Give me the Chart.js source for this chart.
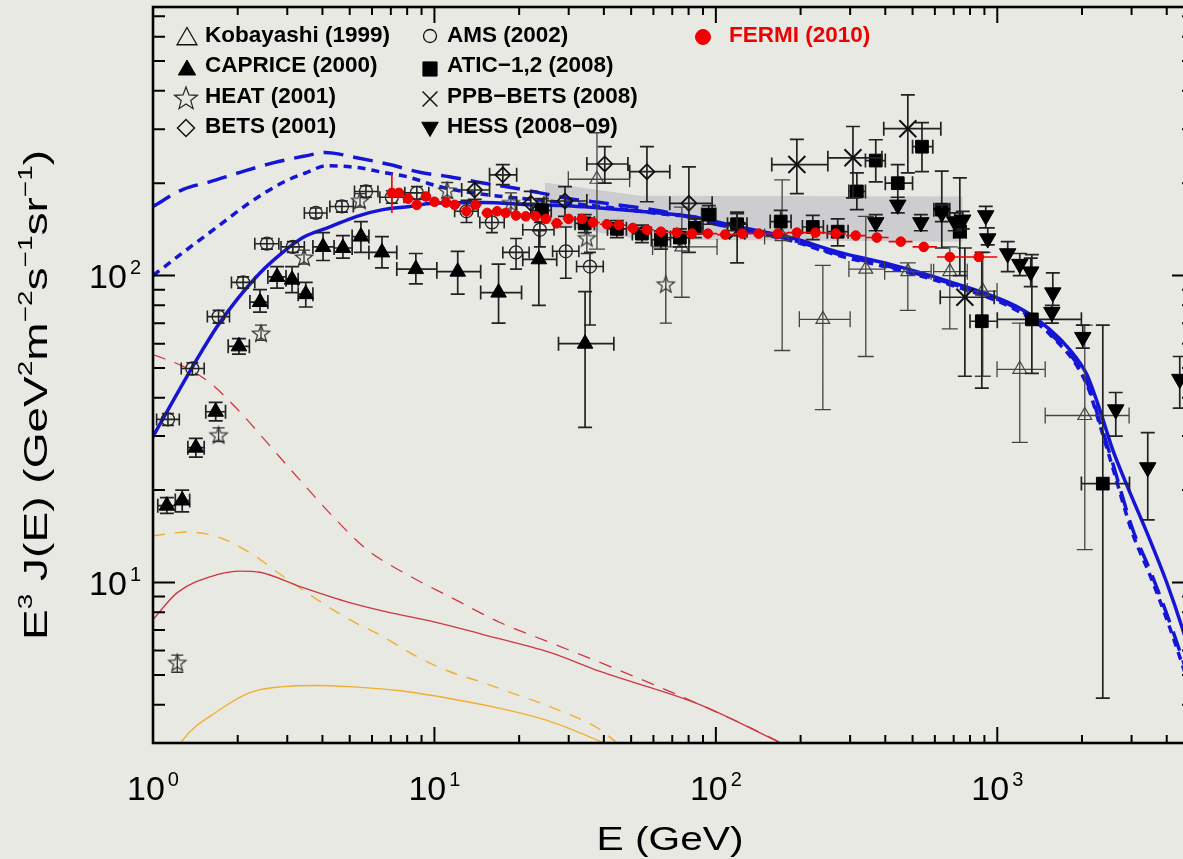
<!DOCTYPE html>
<html>
<head>
<meta charset="utf-8">
<script src="https://cdn.jsdelivr.net/npm/chart.js@4.4.1/dist/chart.umd.min.js"></script>
<style>
html, body { margin: 0; padding: 0; background: #e9e9e4; overflow: hidden; }
canvas { display: block; }
</style>
</head>
<body>
<canvas id="grafico" width="1198" height="859"></canvas>
<script>
// ---------------- DADOS ----------------
// cada linha: [E, E^3 J(E), E baixo, E alto, fluxo baixo, fluxo alto]  (null = sem barra)
const kobayashi = [
    [37.8, 206, 29.9, 49.4, 122, 292],
    [75.7, 124, 59.6, 101, 85, 167],
    [172, 134, 149, 198, 57, 205],
    [240, 72, 198, 300, 36.6, 108],
    [341, 105, 297, 398, 54.5, 156],
    [481, 103, 398, 582, 77, 110],
    [678, 103, 594, 782, 67, 124],
    [888, 89, 782, 998, 47, 119],
    [1202, 49.5, 998, 1480, 28.6, 70],
    [2046, 35, 1480, 2940, 12.8, 69]
];
const caprice = [
    [1.12, 17.8, 1.04, 1.20, 16.8, 18.9],
    [1.27, 18.5, 1.20, 1.35, 17.0, 20.0],
    [1.42, 27.5, 1.33, 1.52, 25.6, 29.5],
    [1.67, 36, 1.54, 1.81, 33.6, 38.6],
    [2.02, 58.8, 1.85, 2.20, 55.5, 62.3],
    [2.40, 82, 2.21, 2.56, 76, 90],
    [2.76, 99, 2.56, 2.97, 91, 107],
    [3.12, 97, 2.97, 3.28, 88, 107],
    [3.49, 87, 3.28, 3.70, 79, 95],
    [4.02, 124, 3.70, 4.40, 112, 138],
    [4.73, 123, 4.40, 5.10, 114, 135],
    [5.48, 134, 5.10, 5.85, 119, 150],
    [6.51, 119, 5.85, 7.35, 106, 134],
    [8.59, 105, 7.35, 10.2, 94, 118],
    [12.1, 103, 10.2, 14.6, 87, 120],
    [16.9, 88, 14.6, 20.4, 70, 109],
    [23.5, 113, 20.6, 27.2, 80, 140],
    [34.3, 60, 27.6, 43.4, 32, 88.7]
];
const heat = [
    [1.22, 5.5, null, null, 5.1, 5.8],
    [1.71, 30.3, null, null, 28.8, 31.9],
    [2.42, 65, null, null, 61.5, 69],
    [3.44, 115, null, null, 109, 121],
    [5.44, 176, null, null, 167, 185],
    [11.1, 190, null, null, 179, 201],
    [18.7, 173, null, null, 160, 186],
    [34.8, 133, null, null, 118, 150],
    [66.4, 94, null, null, 70, 133]
];
const bets = [
    [13.9, 190, 12.5, 15.7, 177, 202],
    [17.5, 213, 15.7, 19.6, 198, 230],
    [22.0, 172, 19.6, 24.5, 156, 188],
    [29.1, 175, 25.0, 34.8, 156, 195],
    [40.3, 231, 34.8, 48.7, 200, 263],
    [56.9, 218, 49.4, 68.6, 174, 263],
    [80.2, 172, 68.6, 97, 119, 226]
];
const ams = [
    [1.13, 34, 1.03, 1.24, 32.5, 35.5],
    [1.38, 49.8, 1.26, 1.52, 47.5, 52],
    [1.71, 73.5, 1.56, 1.87, 70, 77],
    [2.09, 95, 1.90, 2.30, 91, 99],
    [2.54, 127, 2.30, 2.80, 122, 132],
    [3.14, 124, 2.85, 3.45, 119, 129],
    [3.79, 160, 3.45, 4.15, 154, 166],
    [4.69, 168, 4.25, 5.15, 161, 175],
    [5.71, 188, 5.2, 6.3, 180, 196],
    [7.06, 180, 6.4, 7.8, 172, 189],
    [8.66, 186, 7.85, 9.55, 177, 195],
    [13.0, 162, 11.8, 14.3, 149, 176],
    [16.0, 149, 14.5, 17.7, 138, 162],
    [19.5, 119, 17.5, 21.7, 105, 132],
    [23.7, 141, 20.6, 26.6, 124, 149],
    [29.3, 120, 26.3, 32.6, 98, 144],
    [35.7, 107, 32.0, 39.8, 69, 119]
];
const atic = [
    [24.1, 163, 22.3, 26.0, 150, 178],
    [34.2, 148, 31.6, 37.0, 138, 158],
    [44.5, 142, 41.2, 48.1, 133, 151],
    [54.6, 137, 50.5, 59.0, 128, 146],
    [63.8, 131, 59.0, 69.0, 122, 140],
    [74.5, 133, 69.0, 80.5, 124, 142],
    [84.2, 143, 80.5, 90.0, 133, 153],
    [94.4, 158, 89.0, 100, 147, 169],
    [119, 147, 110, 129, 135, 159],
    [170, 150, 156, 185, 137, 163],
    [221, 144, 203, 241, 131, 157],
    [271, 139, 249, 295, 125, 153],
    [317, 188, 297, 340, 164, 216],
    [370, 237, 340, 400, 202, 277],
    [443, 200, 400, 500, 174, 230],
    [540, 263, 500, 590, 218, 315],
    [635, 164, 595, 678, 123, 219],
    [736, 139, 700, 775, 100, 208],
    [881, 71, 800, 1000, 43, 119],
    [1327, 72, 1000, 1990, 48, 117],
    [2371, 21, 1990, 2950, 4.2, 69]
];
const ppbBets = [
    [119, 140, 110, 129, 110, 161],
    [194, 230, 158, 250, 185, 278],
    [307, 242, 250, 389, 179, 306],
    [481, 301, 395, 630, 216, 388],
    [767, 85, 627, 975, 47, 123]
];
const hess = [
    [370, 149, null, null, 140, 158],
    [443, 170, null, null, 160, 180],
    [535, 149, null, null, 140, 158],
    [635, 160, null, null, 150, 170],
    [706, 150, null, null, 140, 160],
    [754, 152, null, null, 142, 162],
    [910, 157, null, null, 143, 168],
    [925, 132, null, null, 126, 143],
    [1089, 118, null, null, 103, 129],
    [1202, 109, null, null, 100, 118],
    [1315, 103, null, null, 92, 114],
    [1575, 88, null, null, 80, 102],
    [1563, 76, null, null, 70, 80],
    [2013, 63, null, null, 58, 69],
    [2636, 36.6, null, null, 30, 41.6],
    [3425, 23.7, null, null, 16, 30.8],
    [4450, 46, null, null, 37, 54.5]
];
const fermi = [
    [7.06, 186, 6.9, 7.27, 160, 216],
    [7.48, 186, 7.27, 7.76, null, null],
    [8.05, 178, 7.76, 8.35, null, null],
    [8.66, 170, 8.35, 9.0, null, null],
    [9.33, 181, 9.0, 9.66, null, null],
    [10.0, 174, 9.66, 10.5, null, null],
    [11.0, 173, 10.5, 11.4, null, null],
    [11.8, 170, 11.4, 12.4, null, null],
    [13.0, 162, 12.4, 13.5, null, null],
    [14.0, 170, 13.5, 14.7, null, null],
    [15.4, 160, 14.7, 16.0, null, null],
    [16.7, 162, 16.0, 17.3, null, null],
    [17.9, 160, 17.3, 18.7, null, null],
    [19.5, 157, 18.7, 20.3, null, null],
    [21.1, 156, 20.3, 22.0, null, null],
    [22.9, 156, 22.0, 23.9, null, null],
    [24.9, 153, 23.9, 26.0, null, null],
    [27.2, 148, 26.0, 28.6, null, null],
    [30.0, 153, 28.6, 31.6, null, null],
    [33.4, 153, 31.6, 35.0, null, null],
    [36.6, 149, 35.0, 38.7, null, null],
    [41.0, 147, 38.7, 43.0, null, null],
    [45.2, 146, 43.0, 47.9, null, null],
    [50.7, 143, 47.9, 53.7, null, null],
    [56.9, 141, 53.7, 60.2, null, null],
    [63.8, 139, 60.2, 68.0, null, null],
    [72.6, 138, 68.0, 77.2, null, null],
    [82.2, 137, 77.2, 87.8, null, null],
    [93.7, 137, 87.8, 101, null, null],
    [108, 136, 101, 116, null, null],
    [124, 137, 116, 133, null, null],
    [142, 137, 133, 154, null, null],
    [166, 137, 154, 179, null, null],
    [194, 138, 179, 209, null, null],
    [226, 138, 209, 246, null, null],
    [267, 137, 246, 290, null, null],
    [314, 135, 290, 342, null, null],
    [373, 133, 342, 411, null, null],
    [454, 129, 411, 500, null, null],
    [548, 124, 500, 610, null, null],
    [678, 115, 610, 780, null, null],
    [859, 115, 780, 1000, null, null]
];

// faixa cinza (sistematica)
const bandaE = [24.7, 53.7, 754];
const bandaAlta = [201, 182, 181];
const bandaBaixa = [148, 131, 129];

// curvas de modelo
const azulCheiaE = [1.0, 1.43, 1.69, 1.99, 2.40, 2.89, 3.41, 4.25, 5.3, 6.56, 8.17, 9.87, 14.9, 22.4, 29.6, 38.8, 53.6, 80.8, 121, 184, 275, 414, 676, 1174, 1538, 1809, 2080, 2312, 2570, 2884, 3483, 4000, 4560, 5000];
const azulCheiaF = [29.9, 53.2, 68.2, 83.6, 102, 119, 133, 144, 156, 164, 168, 172, 173, 170, 169, 166, 162, 156, 144, 133, 119, 109, 95.6, 79.2, 66.7, 57.4, 47.6, 36.6, 27.1, 20.8, 13.8, 10.0, 7.03, 5.3];
const azulPontoE = [1.0, 1.28, 1.69, 2.21, 2.89, 3.53, 4.15, 5.3, 6.56, 7.98, 10.4, 14.9, 22.4, 38.8, 63.2, 87.7, 121, 184, 275, 414, 676, 1174, 1538, 2080, 2312, 2570, 3020, 3483, 4000, 4560, 5000];
const azulPontoF = [100, 119, 144, 173, 201, 217, 228, 225, 217, 210, 195, 184, 177, 168, 159, 154, 142, 130, 116, 106, 93.5, 77, 64.3, 44.2, 32.7, 23.7, 14.5, 10.6, 7.6, 5.35, 4.1];
const azulTracoE = [1.0, 1.28, 1.59, 2.04, 2.67, 3.53, 4.08, 5.3, 6.93, 8.87, 11.3, 14.5, 18.5, 23.7, 30.3, 38.8, 49.5, 59.7, 76.2, 100, 132, 184, 275, 414, 676, 1174, 1538, 2080, 2312, 2570, 3020, 3483, 4000, 4560, 5000];
const azulTracoF = [168, 191, 202, 217, 233, 246, 252, 242, 230, 217, 210, 201, 194, 186, 178, 173, 168, 164, 157, 147, 140, 131, 117, 107, 94.5, 78, 65, 45, 33.5, 24.5, 15, 11, 7.9, 5.6, 4.3];
const vermTracoE = [1.0, 1.28, 1.59, 2.0, 2.54, 3.25, 4.36, 5.76, 8.17, 11.3, 17.1, 25.7, 38.8, 87.7, 169, 200];
const vermTracoF = [55.3, 50.6, 44.8, 36.6, 28.6, 22.1, 16.4, 12.8, 10.5, 9.0, 7.41, 6.38, 5.49, 4.0, 3.01, 2.75];
const vermCheiaE = [1.0, 1.22, 1.69, 2.04, 2.40, 3.33, 5.0, 6.95, 9.89, 14.9, 25.7, 38.8, 87.7, 169, 200];
const vermCheiaF = [7.57, 9.27, 10.6, 10.9, 10.8, 9.7, 8.6, 7.98, 7.46, 6.77, 5.92, 5.13, 4.0, 3.01, 2.8];
const laranjaTracoE = [1.0, 1.32, 1.69, 2.21, 2.89, 3.82, 5.0, 6.56, 8.65, 11.3, 14.9, 19.6, 25.7, 38.8, 44.4, 50];
const laranjaTracoF = [14.2, 14.6, 14.1, 12.5, 10.5, 8.81, 7.57, 6.67, 5.74, 5.13, 4.72, 4.31, 3.94, 3.32, 3.01, 2.8];
const laranjaCheiaE = [1.22, 1.28, 1.69, 2.21, 2.89, 3.82, 5.0, 7.55, 11.3, 17.1, 25.7, 39.7, 45];
const laranjaCheiaF = [2.85, 3.08, 3.80, 4.38, 4.58, 4.62, 4.58, 4.44, 4.19, 3.89, 3.53, 3.01, 2.85];

// eixos
const xMajor = [1, 10, 100, 1000];
const xExpoentes = ["0", "1", "2", "3"];
const yMajor = [10, 100];
const yExpoentes = ["1", "2"];
const yMinor = [3, 4, 5, 6, 7, 8, 9, 20, 30, 40, 50, 60, 70, 80, 90, 200, 300, 400, 500, 600, 700];

const legendaCol1 = ["Kobayashi (1999)", "CAPRICE (2000)", "HEAT (2001)", "BETS (2001)"];
const legendaCol2 = ["AMS (2002)", "ATIC\u22121,2 (2008)", "PPB\u2212BETS (2008)", "HESS (2008\u221209)"];
const legendaFermi = "FERMI (2010)";

// ---------------- ESTILO ----------------
const FUNDO = "#e9e9e4";
const AZUL = "#1515d6";
const VERMELHO = "rgb(205,55,65)";
const LARANJA = "rgb(240,175,50)";
const FONTE = "'Liberation Sans', Arial, sans-serif";

function caminhoEstrela(g, x, y, R) {
    g.beginPath();
    for (let i = 0; i < 10; i++) {
        const a = -Math.PI / 2 + i * Math.PI / 5;
        const r = i % 2 ? R * 0.42 : R;
        const px = x + Math.cos(a) * r, py = y + Math.sin(a) * r;
        if (i === 0) g.moveTo(px, py); else g.lineTo(px, py);
    }
    g.closePath();
}

function estrelaCanvas(R) {
    const c = document.createElement("canvas");
    const s = Math.ceil(2 * R + 4);
    c.width = s; c.height = s;
    const g = c.getContext("2d");
    caminhoEstrela(g, s / 2, s / 2 + 1, R);
    g.strokeStyle = "#333";
    g.lineWidth = 1.2;
    g.stroke();
    return c;
}
const estrela = estrelaCanvas(9);

function pontos(rows) {
    return rows.map(r => ({ x: r[0], y: r[1] }));
}

function curva(es, fs, cor, largura, traco, ordem) {
    return {
        data: es.map((e, i) => ({ x: e, y: fs[i] })),
        showLine: true,
        borderColor: cor,
        borderWidth: largura,
        borderDash: traco,
        pointRadius: 0,
        cubicInterpolationMode: "monotone",
        fill: false,
        order: ordem
    };
}

function serie(rows, estilo, barra, ordem) {
    return Object.assign({ data: pontos(rows), bars: rows, barStyle: barra, order: ordem }, estilo);
}

// ---------------- PLUGINS ----------------
const fundo = {
    id: "fundo",
    beforeDraw(chart) {
        const c = chart.ctx;
        c.save();
        c.fillStyle = FUNDO;
        c.fillRect(0, 0, chart.width, chart.height);
        c.restore();
    }
};

const barrasErro = {
    id: "barrasErro",
    beforeDatasetDraw(chart, args) {
        const ds = chart.data.datasets[args.index];
        if (!ds.bars) return;
        const { ctx, chartArea: a } = chart;
        const xs = chart.scales.x, ys = chart.scales.y;
        const st = ds.barStyle;
        ctx.save();
        ctx.beginPath();
        ctx.rect(a.left, a.top, a.right - a.left, a.bottom - a.top);
        ctx.clip();
        ctx.strokeStyle = st.color;
        ctx.lineWidth = st.width;
        ctx.beginPath();
        ds.bars.forEach(r => {
            const px = xs.getPixelForValue(r[0]);
            const py = ys.getPixelForValue(r[1]);
            if (r[2] != null) {
                const x1 = xs.getPixelForValue(r[2]), x2 = xs.getPixelForValue(r[3]);
                ctx.moveTo(x1, py); ctx.lineTo(x2, py);
                if (st.cap) {
                    ctx.moveTo(x1, py - st.cap); ctx.lineTo(x1, py + st.cap);
                    ctx.moveTo(x2, py - st.cap); ctx.lineTo(x2, py + st.cap);
                }
            }
            if (r[4] != null) {
                const y1 = ys.getPixelForValue(r[4]), y2 = ys.getPixelForValue(r[5]);
                ctx.moveTo(px, y1); ctx.lineTo(px, y2);
                if (st.cap) {
                    ctx.moveTo(px - st.cap, y1); ctx.lineTo(px + st.cap, y1);
                    ctx.moveTo(px - st.cap, y2); ctx.lineTo(px + st.cap, y2);
                }
            }
        });
        ctx.stroke();
        ctx.restore();
    }
};

function marcador(ctx, tipo, x, y, r, cor, cheio, lw) {
    ctx.save();
    ctx.strokeStyle = cor;
    ctx.fillStyle = cor;
    ctx.lineWidth = lw || 1.5;
    ctx.beginPath();
    if (tipo === "tri" || tipo === "triDown") {
        const s = tipo === "tri" ? 1 : -1;
        for (let k = 0; k < 3; k++) {
            const ang = k * 2 * Math.PI / 3;
            const px = x + Math.sin(ang) * r, py = y - s * Math.cos(ang) * r;
            if (k === 0) ctx.moveTo(px, py); else ctx.lineTo(px, py);
        }
        ctx.closePath();
    } else if (tipo === "square") {
        const h = r * Math.SQRT1_2;
        ctx.rect(x - h, y - h, 2 * h, 2 * h);
    } else if (tipo === "diamond") {
        ctx.moveTo(x - r, y); ctx.lineTo(x, y - r); ctx.lineTo(x + r, y); ctx.lineTo(x, y + r);
        ctx.closePath();
    } else if (tipo === "circle") {
        ctx.arc(x, y, r, 0, Math.PI * 2);
    } else if (tipo === "cross") {
        const h = r * Math.SQRT1_2;
        ctx.moveTo(x - h, y - h); ctx.lineTo(x + h, y + h);
        ctx.moveTo(x + h, y - h); ctx.lineTo(x - h, y + h);
    } else if (tipo === "star") {
        caminhoEstrela(ctx, x, y, r);
    }
    if (cheio) ctx.fill();
    ctx.stroke();
    ctx.restore();
}

function potencia(ctx, base, expo, x, baseline, alinhar) {
    ctx.font = "34px " + FONTE;
    const wb = ctx.measureText(base).width;
    ctx.font = "20px " + FONTE;
    const we = ctx.measureText(expo).width;
    const total = wb + 3 + we;
    const x0 = alinhar === "center" ? x - total / 2 : x - total;
    ctx.textAlign = "left";
    ctx.textBaseline = "alphabetic";
    ctx.font = "34px " + FONTE;
    ctx.fillText(base, x0, baseline);
    ctx.font = "20px " + FONTE;
    ctx.fillText(expo, x0 + wb + 3, baseline - 14);
}

// texto com expoentes, centrado em (0,0) e esticado ate "alvo" px
function textoRico(ctx, partes, size, alvo) {
    const sup = Math.round(size * 0.6);
    let w = 0;
    partes.forEach(p => {
        ctx.font = (p[1] ? sup : size) + "px " + FONTE;
        w += ctx.measureText(p[0]).width;
    });
    const k = alvo ? alvo / w : 1;
    ctx.save();
    ctx.scale(k, 1);
    ctx.textAlign = "left";
    ctx.textBaseline = "alphabetic";
    let x = -w / 2;
    partes.forEach(p => {
        ctx.font = (p[1] ? sup : size) + "px " + FONTE;
        ctx.fillText(p[0], x, p[1] ? -size * 0.45 : 0);
        x += ctx.measureText(p[0]).width;
    });
    ctx.restore();
}

const moldura = {
    id: "moldura",
    afterDatasetsDraw(chart) {
        const { ctx, chartArea: a } = chart;
        const xs = chart.scales.x, ys = chart.scales.y;
        ctx.save();
        ctx.strokeStyle = "#000";
        ctx.lineWidth = 2;
        ctx.beginPath();
        // x ticks (baixo e topo)
        for (let d = 0; d <= 3; d++) {
            for (let k = 1; k <= 9; k++) {
                const v = k * Math.pow(10, d);
                if (v > 5000) break;
                const px = xs.getPixelForValue(v);
                const len = k === 1 ? 16 : 8;
                ctx.moveTo(px, a.bottom); ctx.lineTo(px, a.bottom - len);
                ctx.moveTo(px, a.top); ctx.lineTo(px, a.top + len);
            }
        }
        // y ticks (esquerda e direita)
        yMinor.concat(yMajor).forEach(v => {
            const py = ys.getPixelForValue(v);
            const len = yMajor.includes(v) ? 22 : 12;
            ctx.moveTo(a.left, py); ctx.lineTo(a.left + len, py);
            ctx.moveTo(a.right, py); ctx.lineTo(a.right - len, py);
        });
        ctx.stroke();
        ctx.lineWidth = 2.6;
        ctx.strokeRect(a.left, a.top, a.right - a.left, a.bottom - a.top);
        ctx.restore();
    },
    afterDraw(chart) {
        const { ctx } = chart;
        const xs = chart.scales.x, ys = chart.scales.y;
        ctx.save();
        ctx.fillStyle = "#000";
        xMajor.forEach((v, i) => potencia(ctx, "10", xExpoentes[i], xs.getPixelForValue(v), 800, "center"));
        yMajor.forEach((v, i) => potencia(ctx, "10", yExpoentes[i], 141, ys.getPixelForValue(v) + 12, "right"));

        // titulo x
        ctx.save();
        ctx.translate(670, 850);
        textoRico(ctx, [["E (GeV)", false]], 34, 147);
        ctx.restore();

        // titulo y
        ctx.save();
        ctx.translate(47, 395);
        ctx.rotate(-Math.PI / 2);
        textoRico(ctx, [
            ["E", false], ["3", true], [" J(E) (GeV", false], ["2", true], ["m", false],
            ["\u22122", true], ["s", false], ["\u22121", true], ["sr", false], ["\u22121", true], [")", false]
        ], 33, 490);
        ctx.restore();

        // legenda
        const linhas = [42, 72, 103, 133];
        const centros = [39, 70, 99, 128];
        ctx.font = "bold 22.5px " + FONTE;
        ctx.textAlign = "left";
        ctx.textBaseline = "alphabetic";
        legendaCol1.forEach((t, i) => ctx.fillText(t, 205, linhas[i]));
        legendaCol2.forEach((t, i) => ctx.fillText(t, 447, linhas[i]));
        marcador(ctx, "tri", 187, centros[0], 11.5, "#111", false, 1.3);
        marcador(ctx, "tri", 187, centros[1], 10, "#000", true, 1);
        marcador(ctx, "star", 186, centros[2], 12, "#222", false, 1.2);
        marcador(ctx, "diamond", 186, centros[3], 8.5, "#111", false, 1.5);
        marcador(ctx, "circle", 430, 36, 6.5, "#111", false, 1.3);
        marcador(ctx, "square", 430, 69, 10, "#000", true, 1);
        marcador(ctx, "cross", 430, 99, 10.5, "#111", false, 1.5);
        marcador(ctx, "triDown", 430, 127, 9.5, "#000", true, 1);
        marcador(ctx, "circle", 703, 37, 7.5, "#f00000", true, 1);
        ctx.fillStyle = "#f00000";
        ctx.fillText(legendaFermi, 729, linhas[0]);
        ctx.restore();
    }
};

// ---------------- GRAFICO ----------------
const barraPreta = { color: "#222", width: 1.7, cap: 7 };

const datasets = [
    { data: bandaE.map((e, i) => ({ x: e, y: bandaAlta[i] })), showLine: true, borderWidth: 0, pointRadius: 0,
      backgroundColor: "#cdcdd0", borderColor: "rgba(0,0,0,0)", fill: "+1", order: 100 },
    { data: bandaE.map((e, i) => ({ x: e, y: bandaBaixa[i] })), showLine: true, borderWidth: 0, pointRadius: 0,
      borderColor: "rgba(0,0,0,0)", fill: false, order: 101 },

    curva(vermTracoE, vermTracoF, VERMELHO, 1.3, [13, 10], 60),
    curva(vermCheiaE, vermCheiaF, VERMELHO, 1.3, [], 60),
    curva(laranjaTracoE, laranjaTracoF, LARANJA, 1.4, [12, 10], 60),
    curva(laranjaCheiaE, laranjaCheiaF, LARANJA, 1.4, [], 60),
    curva(azulTracoE, azulTracoF, AZUL, 3.5, [20, 10], 40),
    curva(azulPontoE, azulPontoF, AZUL, 3.5, [8, 6], 40),
    curva(azulCheiaE, azulCheiaF, AZUL, 3.5, [], 40),

    serie(kobayashi, { pointStyle: "triangle", pointRadius: 8, borderColor: "#444", borderWidth: 1.2,
        backgroundColor: "rgba(0,0,0,0)" }, { color: "#444", width: 1.3, cap: 8 }, 20),
    serie(ams, { pointStyle: "circle", pointRadius: 6.5, borderColor: "#222", borderWidth: 1.3,
        backgroundColor: "rgba(0,0,0,0)" }, { color: "#222", width: 1.6, cap: 6 }, 19),
    serie(heat, { pointStyle: estrela, pointRadius: 9 }, { color: "#333", width: 1.3, cap: 6 }, 18),
    serie(caprice, { pointStyle: "triangle", pointRadius: 9, borderColor: "#000", borderWidth: 1,
        backgroundColor: "#000" }, barraPreta, 17),
    serie(bets, { pointStyle: "rectRot", pointRadius: 7.5, borderColor: "#111", borderWidth: 1.8,
        backgroundColor: "rgba(0,0,0,0)" }, barraPreta, 16),
    serie(atic, { pointStyle: "rect", pointRadius: 9, borderColor: "#000", borderWidth: 1,
        backgroundColor: "#000" }, barraPreta, 15),
    serie(ppbBets, { pointStyle: "crossRot", pointRadius: 12, borderColor: "#111", borderWidth: 2 },
        barraPreta, 14),
    serie(hess, { pointStyle: "triangle", rotation: 180, pointRadius: 9.5, borderColor: "#000", borderWidth: 1,
        backgroundColor: "#000" }, barraPreta, 13),
    serie(fermi, { pointStyle: "circle", pointRadius: 4.8, borderColor: "#f00000", borderWidth: 1,
        backgroundColor: "#f00000" }, { color: "#f00000", width: 1.6, cap: 0 }, 1)
];

const chart = new Chart(document.getElementById("grafico"), {
    type: "scatter",
    data: { datasets: datasets },
    options: {
        responsive: false,
        animation: false,
        events: [],
        layout: { autoPadding: false, padding: { left: 153, top: 7, right: 4, bottom: 116 } },
        scales: {
            x: { type: "logarithmic", min: 1, max: 5000, display: false },
            y: { type: "logarithmic", min: 3, max: 750, display: false }
        },
        plugins: { legend: { display: false }, tooltip: { enabled: false } }
    },
    plugins: [fundo, barrasErro, moldura]
});
</script>
</body>
</html>
